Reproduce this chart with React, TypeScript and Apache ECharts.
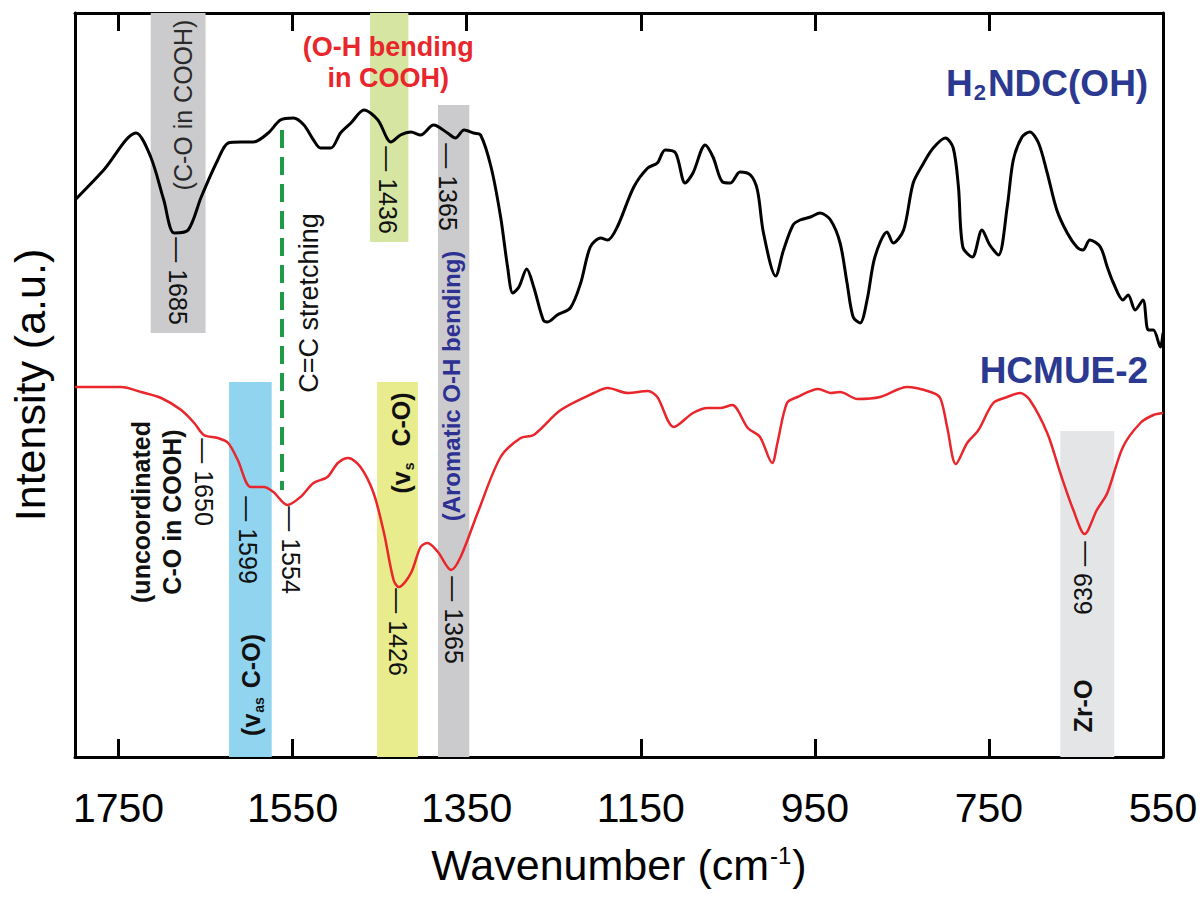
import React, { useEffect, useRef } from "react";
import * as echarts from "echarts";

// ---------- data ----------
const xTickValues = [1750, 1550, 1350, 1150, 950, 750, 550];

// H2NDC(OH) spectrum (wavenumber, intensity a.u.)
const h2ndcWn = [1800,1767,1730,1713,1698,1686,1670,1655,1636,1624,1609,1595,1578,1564,1549,1537,1526,1518,1506,1495,1483,1468,1452,1437,1426,1414,1403,1388,1372,1363,1353,1342,1334,1322,1311,1303,1297,1290,1281,1273,1262,1257,1246,1231,1219,1208,1196,1188,1177,1158,1142,1131,1122,1110,1099,1090,1076,1067,1056,1047,1036,1024,1016,1009,995,986,975,967,955,944,932,921,913,906,898,890,881,867,860,848,837,825,814,800,791,785,780,769,758,749,739,729,722,712,703,693,683,672,660,649,642,634,622,614,607,596,590,582,573,567,561,553,550];
const h2ndcInt = [557,587,624,600,557,524,527,560,597,614,615,615,624,637,639,632,617,609,609,624,634,647,637,615,622,625,622,632,624,619,627,624,622,590,540,490,464,470,488,470,437,435,442,449,474,510,519,517,530,570,589,594,607,604,574,584,612,600,575,574,585,582,567,524,481,507,532,537,540,544,537,514,474,440,434,457,500,525,514,527,574,594,609,619,609,570,510,500,527,512,502,550,597,620,625,614,584,547,524,510,507,517,510,490,474,457,462,447,457,427,427,410,424];

// HCMUE-2 spectrum
const hcmueWn = [1800,1747,1724,1701,1678,1663,1652,1636,1624,1613,1598,1583,1572,1556,1541,1526,1510,1498,1486,1472,1457,1445,1434,1428,1414,1403,1395,1383,1368,1357,1337,1311,1288,1273,1242,1204,1188,1165,1142,1131,1112,1090,1073,1058,1045,1027,1013,999,993,982,970,946,932,921,901,875,844,817,806,798,788,775,762,745,729,714,703,683,668,653,640,626,614,596,576,561,550];
const hcmueInt = [370,370,365,359,347,334,322,319,314,297,270,270,265,252,260,274,280,294,299,290,264,224,177,170,184,210,214,205,187,200,245,300,319,322,347,364,369,364,366,360,330,344,349,349,352,329,320,294,314,354,360,368,364,365,358,360,370,365,359,330,293,314,327,354,360,364,357,324,284,247,223,247,264,310,334,342,344];

// highlighted bands (wavenumber ranges and intensity extents)
const bandFrom = [1713, 1461, 1383, 1623, 1453, 668];
const bandTo = [1650, 1417, 1347, 1574, 1406, 606];
const bandLow = [424, 515, 0, 0, 0, 0];
const bandHigh = [744, 744, 652, 375, 375, 326];
const bandColors = ["#cbcbcd", "#d6e6a2", "#cbcbcd", "#90d4f0", "#e9ec8c", "#e4e5e7"];

// C=C stretching marker
const ccWn = 1562;
const ccRange = [267, 627];

// annotations
const annoText = [
  "(C-O in COOH)",
  "— 1685",
  "(O-H bending\nin COOH)",
  "— 1436",
  "— 1365",
  "(Aromatic O-H bending)",
  "C=C stretching",
  "H{sub|2}NDC(OH)",
  "HCMUE-2",
  "(uncoordinated\nC-O in COOH)",
  "— 1650",
  "— 1599",
  "— 1554",
  "(v{sub|as} C-O)",
  "(v{sub|s}  C-O)",
  "— 1426",
  "— 1365",
  "639 —",
  "Zr-O",
];
const annoWn = [1676, 1682, 1440, 1440, 1371, 1367, 1531, 567, 567, 1706, 1652, 1601, 1552, 1598, 1426, 1429, 1365, 642, 642];
const annoInt = [652, 476, 695, 567, 570, 371, 454, 674, 387, 245, 275, 217, 207, 72, 314, 125, 137, 179, 51];
const annoRotate = [90, -90, 0, -90, -90, 90, 90, 0, 0, 90, -90, -90, -90, 90, 90, -90, -90, 90, 90];
const annoKind = ["note", "peak", "red", "peak", "peak", "blue", "noteL", "name", "name", "bold", "peak", "peak", "peak", "bold", "bold", "peak", "peak", "peak", "bold"];

const FONT = "'Liberation Sans', Arial, Helvetica, sans-serif";

const kindStyle: Record<string, any> = {
  peak: { fontSize: 25, color: "#111", fontWeight: "normal" },
  note: { fontSize: 25, color: "#2a2a2a", fontWeight: "normal" },
  noteL: { fontSize: 27, color: "#111", fontWeight: "normal" },
  bold: { fontSize: 25, color: "#111", fontWeight: "bold", lineHeight: 31 },
  blue: { fontSize: 24, color: "#2e3192", fontWeight: "bold" },
  red: { fontSize: 27, color: "#e8262b", fontWeight: "bold", lineHeight: 31 },
  name: { fontSize: 37, color: "#2b3990", fontWeight: "bold", align: "right", lineHeight: 40 },
};

export default function App() {
  const ref = useRef<HTMLDivElement>(null);

  useEffect(() => {
    if (!ref.current) return;
    const chart = echarts.init(ref.current, undefined, { renderer: "svg" });

    const h2ndcData = h2ndcWn.map((w, i) => [w, h2ndcInt[i]]);
    const hcmueData = hcmueWn.map((w, i) => [w, hcmueInt[i]]);

    const areaData = bandFrom.map((f, i) => [
      { xAxis: f, yAxis: bandLow[i], itemStyle: { color: bandColors[i], opacity: 1 } },
      { xAxis: bandTo[i], yAxis: bandHigh[i] },
    ]);

    const annoData = annoText.map((t, i) => {
      const st = kindStyle[annoKind[i]];
      const subSize = annoKind[i] === "name" ? 22 : 14;
      return {
        value: [annoWn[i], annoInt[i]],
        label: {
          show: true,
          position: "inside",
          formatter: t,
          rotate: annoRotate[i],
          align: st.align || "center",
          verticalAlign: "middle",
          fontFamily: FONT,
          fontSize: st.fontSize,
          fontWeight: st.fontWeight,
          color: st.color,
          opacity: 1,
          lineHeight: st.lineHeight || st.fontSize + 4,
          rich: {
            sub: {
              fontFamily: FONT,
              fontSize: subSize,
              fontWeight: "bold",
              color: st.color,
              verticalAlign: "bottom",
              lineHeight: subSize,
              padding: [annoKind[i] === "name" ? 14 : 10, 2, 0, 1],
            },
          },
        },
      };
    });

    const axisLine = { show: true, onZero: false, lineStyle: { color: "#000", width: 3 } };

    chart.setOption({
      animation: false,
      backgroundColor: "#fff",
      grid: { left: 74, right: 40, top: 13, bottom: 140, containLabel: false },
      xAxis: [
        {
          type: "value",
          inverse: true,
          min: 550,
          max: 1800,
          position: "bottom",
          axisLine,
          axisTick: { show: true, inside: true, length: 18, customValues: xTickValues, lineStyle: { color: "#000", width: 3 } },
          axisLabel: {
            show: true,
            customValues: xTickValues,
            showMinLabel: true,
            showMaxLabel: true,
            formatter: (v: number) => String(v),
            margin: 30,
            fontSize: 41,
            color: "#000",
            fontFamily: FONT,
          },
          splitLine: { show: false },
          name: "Wavenumber (cm{sup|-1})",
          nameLocation: "middle",
          nameGap: 86,
          nameTextStyle: {
            fontSize: 43,
            color: "#000",
            fontFamily: FONT,
            rich: { sup: { fontSize: 24, fontFamily: FONT, color: "#000", verticalAlign: "top", padding: [0, 1, 16, 1] } },
          },
        },
        {
          type: "value",
          inverse: true,
          min: 550,
          max: 1800,
          position: "top",
          axisLine,
          axisTick: { show: true, inside: true, length: 18, customValues: xTickValues, lineStyle: { color: "#000", width: 3 } },
          axisLabel: { show: false },
          splitLine: { show: false },
        },
      ],
      yAxis: [
        {
          type: "value",
          min: 0,
          max: 744,
          position: "left",
          axisLine,
          axisTick: { show: false },
          axisLabel: { show: false },
          splitLine: { show: false },
          name: "Intensity (a.u.)",
          nameLocation: "middle",
          nameGap: 24,
          nameTextStyle: { fontSize: 43, color: "#000", fontFamily: FONT },
        },
        {
          type: "value",
          min: 0,
          max: 744,
          position: "right",
          axisLine,
          axisTick: { show: false },
          axisLabel: { show: false },
          splitLine: { show: false },
        },
      ],
      series: [
        {
          name: "bands",
          type: "line",
          data: [],
          z: 1,
          silent: true,
          markArea: { silent: true, data: areaData },
          markLine: {
            silent: true,
            symbol: ["none", "none"],
            label: { show: false },
            lineStyle: { color: "#1f9a47", width: 4, type: [18, 9] },
            data: [[{ coord: [ccWn, ccRange[1]] }, { coord: [ccWn, ccRange[0]] }]],
          },
        },
        {
          name: "H2NDC(OH)",
          type: "line",
          data: h2ndcData,
          showSymbol: false,
          smooth: 0.3,
          z: 3,
          lineStyle: { color: "#000", width: 3 },
          silent: true,
        },
        {
          name: "HCMUE-2",
          type: "line",
          data: hcmueData,
          showSymbol: false,
          smooth: 0.3,
          z: 3,
          lineStyle: { color: "#e8262b", width: 2.5 },
          silent: true,
        },
        {
          name: "annotations",
          type: "scatter",
          data: annoData,
          symbolSize: 0,
          itemStyle: { opacity: 1 },
          z: 5,
          silent: true,
          clip: false,
          labelLayout: { hideOverlap: false },
        },
      ],
    });

    return () => chart.dispose();
  }, []);

  return (
    <div
      ref={ref}
      style={{ position: "absolute", left: 0, top: 0, width: 1203, height: 897, background: "#fff" }}
    />
  );
}
